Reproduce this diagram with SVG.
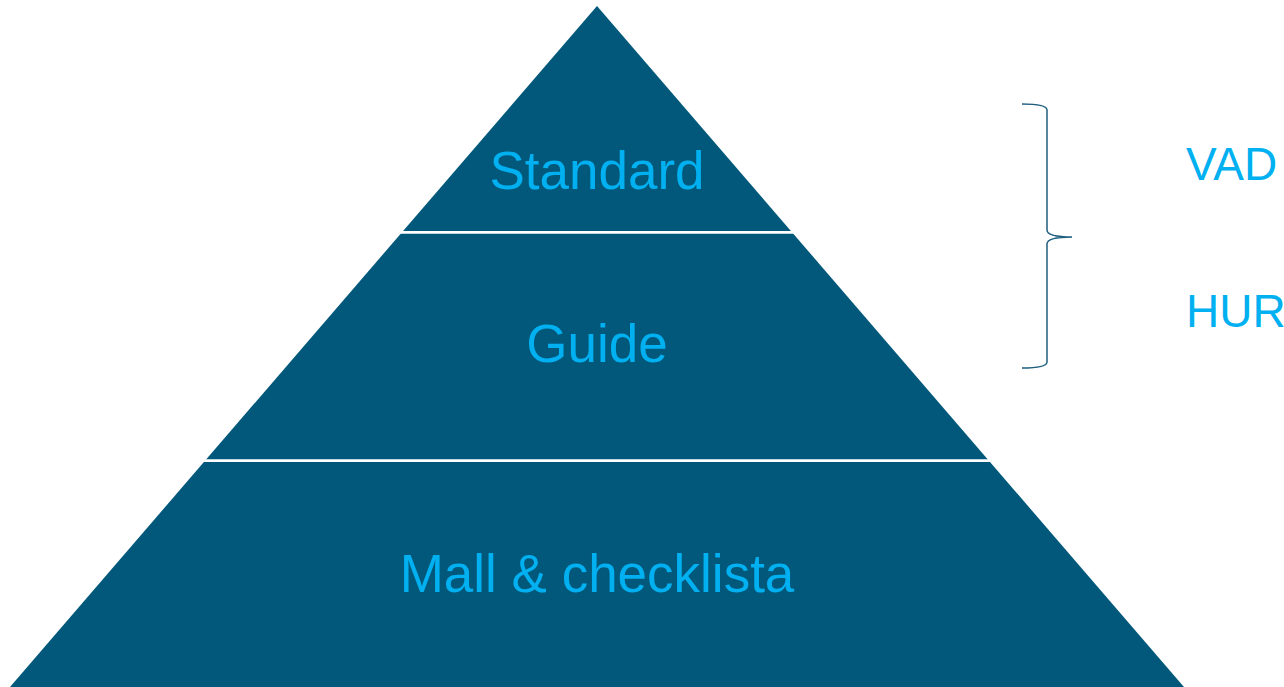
<svg xmlns="http://www.w3.org/2000/svg" width="1284" height="687" viewBox="0 0 1284 687">
<style>
.lbl{font-family:"Liberation Sans",Arial,sans-serif;fill:#00B0F0;}
.sep{stroke:#FFFFFF;stroke-width:2.8;}
</style>
<rect width="1284" height="687" fill="#FFFFFF"/>
<g id="pyramid">
<polygon points="597,6 1184,687 10,687" fill="#02587A"/>
<line class="sep" x1="380" y1="232.3" x2="820" y2="232.3"/>
<line class="sep" x1="180" y1="460.7" x2="1010" y2="460.7"/>
</g>
<g id="standard"><text class="lbl" x="597" y="189" font-size="53" text-anchor="middle">Standard</text></g>
<g id="guide"><text class="lbl" x="597" y="362" font-size="53" text-anchor="middle">Guide</text></g>
<g id="mall"><text class="lbl" x="597" y="592" font-size="53" text-anchor="middle">Mall &amp; checklista</text></g>
<g id="connectors">
<path d="M1022,104 Q1047,104 1047,110 L1047,230 Q1047,237 1072,237 Q1047,237 1047,244 L1047,362 Q1047,368 1022,368" fill="none" stroke="#1F5F80" stroke-width="1.5"/>
</g>
<g id="vad"><text class="lbl" x="1186" y="180" font-size="46">VAD</text></g>
<g id="hur"><text class="lbl" x="1186" y="327" font-size="46">HUR</text></g>
</svg>
